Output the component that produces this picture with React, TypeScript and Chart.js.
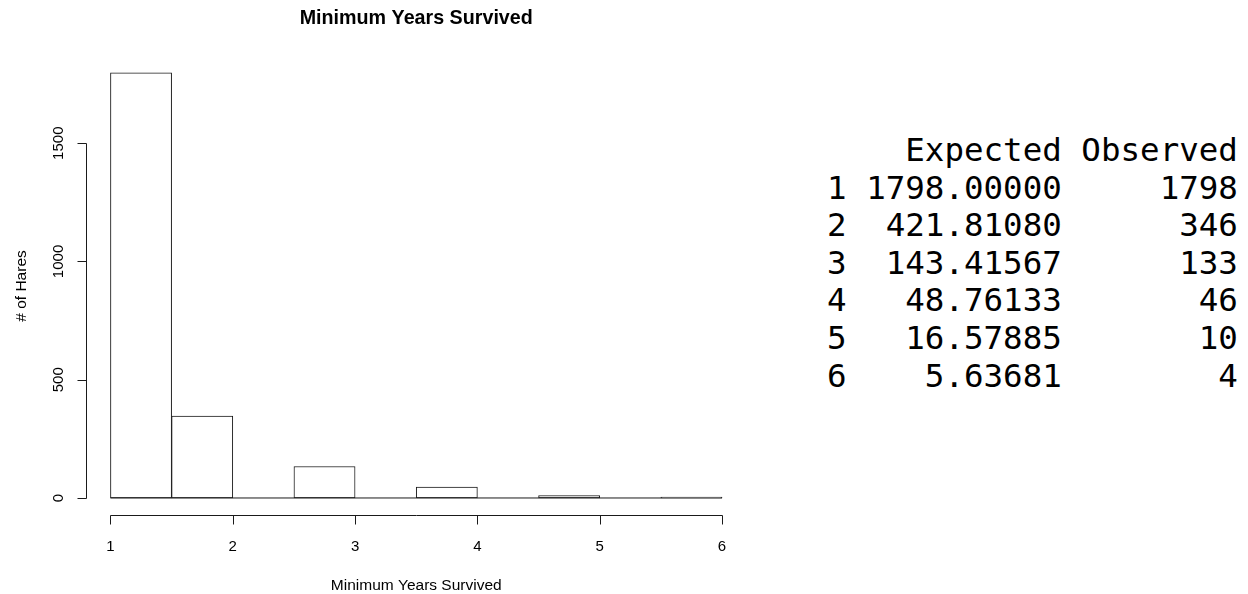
import React, { useEffect, useRef } from "react";
import { Chart, registerables } from "chart.js";

Chart.register(...registerables);

// ---- data ----
const breaks = [1, 1.5, 2, 2.5, 3, 3.5, 4, 4.5, 5, 5.5, 6];
const counts = [1798, 346, 0, 133, 0, 46, 0, 10, 0, 4];
const xTicks = [1, 2, 3, 4, 5, 6];
const xTickLabels = ["1", "2", "3", "4", "5", "6"];
const yTicks = [0, 500, 1000, 1500];
const yTickLabels = ["0", "500", "1000", "1500"];
const mainTitle = "Minimum Years Survived";
const xTitle = "Minimum Years Survived";
const yTitle = "# of Hares";

const tableHeaders = ["Expected", "Observed"];
const tableRowNames = ["1", "2", "3", "4", "5", "6"];
const expectedVals = [1798.0, 421.8108, 143.41567, 48.76133, 16.57885, 5.63681];
const observedVals = [1798, 346, 133, 46, 10, 4];

const FONT = "'Liberation Sans', Arial, sans-serif";
const INK = "#1a1a1a";

const rAxesPlugin = {
  id: "rAxes",
  afterDraw(chart: any) {
    const { ctx, chartArea } = chart;
    const x = chart.scales.x;
    const y = chart.scales.y;
    ctx.save();
    ctx.strokeStyle = INK;
    ctx.fillStyle = "#000";
    ctx.lineWidth = 1;

    // x axis
    const ay = Math.round(chartArea.bottom) + 0.5;
    const snapX = (v: number) => Math.round(x.getPixelForValue(v)) + 0.5;
    ctx.beginPath();
    ctx.moveTo(snapX(xTicks[0]), ay);
    ctx.lineTo(snapX(xTicks[xTicks.length - 1]), ay);
    xTicks.forEach((t) => {
      ctx.moveTo(snapX(t), ay);
      ctx.lineTo(snapX(t), ay + 9);
    });
    ctx.stroke();

    // y axis
    const ax = Math.round(chartArea.left) + 0.5;
    const snapY = (v: number) => Math.round(y.getPixelForValue(v)) + 0.5;
    ctx.beginPath();
    ctx.moveTo(ax, snapY(yTicks[0]));
    ctx.lineTo(ax, snapY(yTicks[yTicks.length - 1]));
    yTicks.forEach((t) => {
      ctx.moveTo(ax, snapY(t));
      ctx.lineTo(ax - 9, snapY(t));
    });
    ctx.stroke();

    // x tick labels
    ctx.font = `15px ${FONT}`;
    ctx.textAlign = "center";
    ctx.textBaseline = "alphabetic";
    xTicks.forEach((t, i) => {
      ctx.fillText(xTickLabels[i], x.getPixelForValue(t), 551);
    });

    // y tick labels (rotated)
    yTicks.forEach((t, i) => {
      ctx.save();
      ctx.translate(63, y.getPixelForValue(t));
      ctx.rotate(-Math.PI / 2);
      ctx.fillText(yTickLabels[i], 0, 0);
      ctx.restore();
    });

    // x title
    const cx = (chartArea.left + chartArea.right) / 2;
    ctx.font = `15.5px ${FONT}`;
    ctx.fillText(xTitle, cx, 590);

    // y title
    ctx.save();
    ctx.translate(26, 286);
    ctx.rotate(-Math.PI / 2);
    ctx.fillText(yTitle, 0, 0);
    ctx.restore();

    // main title
    ctx.font = `bold 19.7px ${FONT}`;
    ctx.fillText(mainTitle, cx, 24);

    ctx.restore();
  },
};

function ChartPanel() {
  const ref = useRef<HTMLCanvasElement | null>(null);
  useEffect(() => {
    if (!ref.current) return;
    const centers = counts.map((_, i) => (breaks[i] + breaks[i + 1]) / 2);
    const barData = counts.map((c, i) => ({ x: centers[i], y: c }));
    const xMin = breaks[0];
    const xMax = breaks[breaks.length - 1];
    const yMax = Math.max(...counts);
    const xPad = (xMax - xMin) * 0.04;
    const yPad = yMax * 0.04;
    const chart = new Chart(ref.current, {
      type: "bar",
      data: {
        datasets: [
          {
            type: "line",
            data: [
              { x: xMin, y: 0 },
              { x: xMax, y: 0 },
            ],
            borderColor: INK,
            borderWidth: 1,
            pointRadius: 0,
            fill: false,
            order: 0,
          } as any,
          {
            type: "bar",
            data: barData,
            backgroundColor: "#ffffff",
            borderColor: INK,
            borderWidth: 1,
            borderSkipped: false,
            barPercentage: 1,
            categoryPercentage: 1,
            order: 1,
          } as any,
        ],
      },
      options: {
        animation: false,
        responsive: true,
        maintainAspectRatio: false,
        layout: { padding: { left: 86, right: 13.5, top: 55.7, bottom: 79 } },
        plugins: {
          legend: { display: false },
          tooltip: { enabled: false },
          title: { display: false },
        },
        scales: {
          x: {
            type: "linear",
            display: false,
            offset: false,
            min: xMin - xPad,
            max: xMax + xPad,
          },
          y: {
            type: "linear",
            display: false,
            min: -yPad,
            max: yMax + yPad,
          },
        },
      },
      plugins: [rAxesPlugin],
    } as any);
    return () => chart.destroy();
  }, []);
  return (
    <div style={{ position: "absolute", left: 0, top: 0, width: 760, height: 594 }}>
      <canvas ref={ref} />
    </div>
  );
}

function ResultTable() {
  const header =
    " ".repeat(tableRowNames[0].length) +
    " " +
    tableHeaders[0].padStart(10) +
    " " +
    tableHeaders[1].padStart(8);
  const rows = tableRowNames.map(
    (r, i) =>
      r + " " + expectedVals[i].toFixed(5).padStart(10) + " " + String(observedVals[i]).padStart(8)
  );
  return (
    <pre
      style={{
        position: "absolute",
        left: 827,
        top: 132,
        margin: 0,
        fontFamily: "'DejaVu Sans Mono', monospace",
        fontSize: "32.5px",
        lineHeight: "37.6px",
        color: "#000",
      }}
    >
      {[header, ...rows].join("\n")}
    </pre>
  );
}

export default function App() {
  return (
    <div style={{ position: "absolute", left: 0, top: 0, width: 1248, height: 594, background: "#fff" }}>
      <ChartPanel />
      <ResultTable />
    </div>
  );
}
